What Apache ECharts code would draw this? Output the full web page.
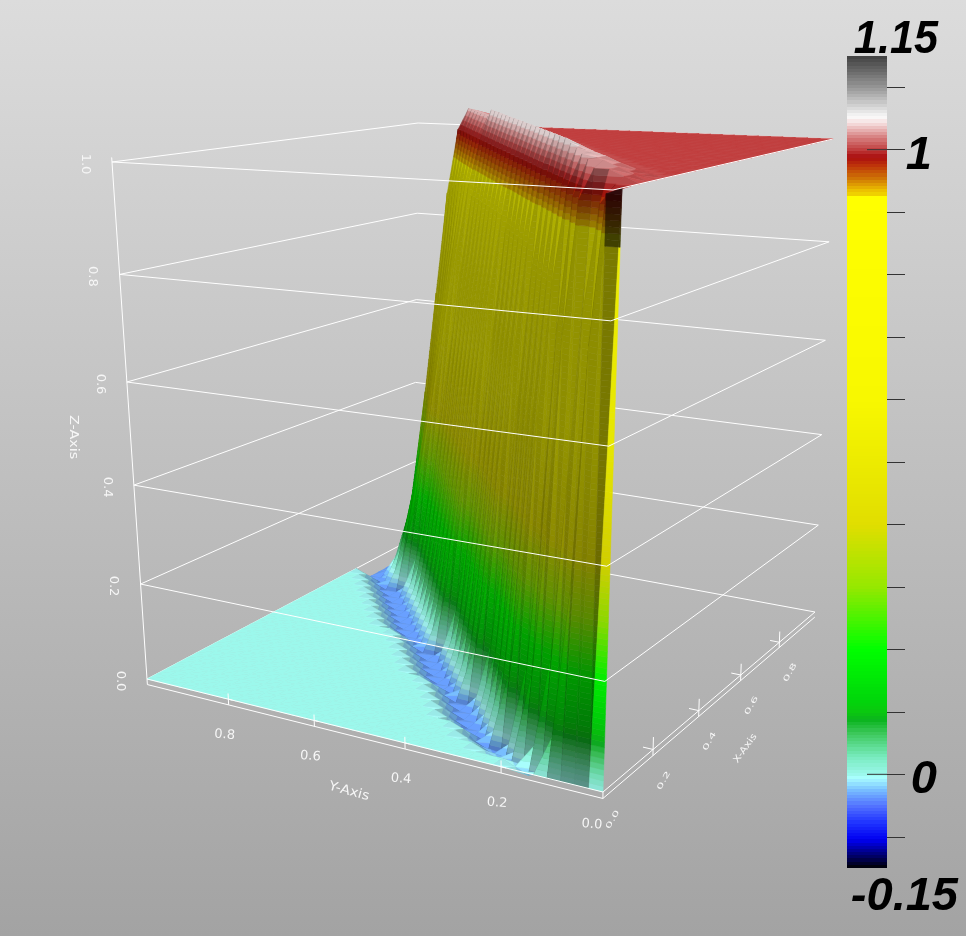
<!DOCTYPE html>
<html>
<head>
<meta charset="utf-8">
<style>html,body{margin:0;padding:0;background:#bbb}#main{width:966px;height:936px}</style>
<script src="https://cdn.jsdelivr.net/npm/echarts@6/dist/echarts.min.js"></script>
</head>
<body>
<div id="main"></div>
<script>
// grid of the surface
const xValues = [0,.031,.063,.094,.125,.156,.188,.219,.25,.281,.313,.344,.375,.406,.438,.469,.5,.531,.563,.594,.625,.656,.688,.719,.75,.781,.813,.844,.875,.906,.938,.969,1];
const yValues = [0,.027,.054,.081,.108,.135,.162,.189,.216,.243,.27,.297,.324,.351,.378,.405,.432,.459,.486,.514,.541,.568,.595,.622,.649,.676,.703,.73,.757,.784,.811,.838,.865,.892,.919,.946,.973,1];
// one row per x value, one column per y value
const zValues = [
[0,0,0,0,0,0,0,0,0,0,0,0,0,0,0,0,0,0,0,0,0,0,0,0,0,0,0,0,0,0,0,0,0,0,0,0,0,0],
[1,.99,.75,.35,.08,-.01,-.02,-.01,0,0,0,0,0,0,0,0,0,0,0,0,0,0,0,0,0,0,0,0,0,0,0,0,0,0,0,0,0,0],
[1,1,.97,.8,.5,.2,.03,-.02,-.03,-.02,-.01,0,0,0,0,0,0,0,0,0,0,0,0,0,0,0,0,0,0,0,0,0,0,0,0,0,0,0],
[1,1.01,1.02,1.02,.97,.75,.42,.15,-.01,-.03,-.03,-.02,-.01,0,0,0,0,0,0,0,0,0,0,0,0,0,0,0,0,0,0,0,0,0,0,0,0,0],
[1,1.01,1.02,1.03,1.03,.97,.75,.42,.15,-.01,-.04,-.04,-.03,-.01,0,0,0,0,0,0,0,0,0,0,0,0,0,0,0,0,0,0,0,0,0,0,0,0],
[1,1.005,1.01,1.02,1.03,1.035,.98,.82,.58,.32,.11,-.01,-.04,-.04,-.03,-.01,0,0,0,0,0,0,0,0,0,0,0,0,0,0,0,0,0,0,0,0,0,0],
[1,1.005,1.01,1.02,1.03,1.035,1.04,.98,.82,.58,.32,.11,-.01,-.04,-.04,-.03,-.01,0,0,0,0,0,0,0,0,0,0,0,0,0,0,0,0,0,0,0,0,0],
[1,1,1.005,1.01,1.02,1.03,1.035,1.045,.98,.82,.58,.32,.11,-.01,-.04,-.04,-.03,-.01,0,0,0,0,0,0,0,0,0,0,0,0,0,0,0,0,0,0,0,0],
[1,1,1,1.005,1.01,1.02,1.03,1.04,1.05,.98,.82,.58,.32,.11,-.01,-.04,-.04,-.03,-.01,0,0,0,0,0,0,0,0,0,0,0,0,0,0,0,0,0,0,0,0],
[1,1,1,1,1.005,1.01,1.02,1.03,1.04,1.05,.98,.82,.58,.32,.11,-.01,-.04,-.04,-.03,-.01,0,0,0,0,0,0,0,0,0,0,0,0,0,0,0,0,0,0,0],
[1,1,1,1,1,1.005,1.01,1.02,1.03,1.04,1.05,.99,.86,.66,.44,.24,.08,-.02,-.04,-.04,-.03,-.01,0,0,0,0,0,0,0,0,0,0,0,0,0,0,0,0],
[1,1,1,1,1,1,1.005,1.01,1.02,1.03,1.04,1.05,.99,.86,.66,.44,.24,.08,-.02,-.04,-.04,-.03,-.01,0,0,0,0,0,0,0,0,0,0,0,0,0,0,0],
[1,1,1,1,1,1,1,1.005,1.01,1.02,1.03,1.04,1.05,.99,.86,.66,.44,.24,.08,-.02,-.04,-.04,-.03,-.01,0,0,0,0,0,0,0,0,0,0,0,0,0,0],
[1,1,1,1,1,1,1,1,1.005,1.01,1.02,1.03,1.04,1.05,.99,.86,.66,.44,.24,.08,-.02,-.04,-.04,-.03,-.01,0,0,0,0,0,0,0,0,0,0,0,0,0],
[1,1,1,1,1,1,1,1,1,1.005,1.01,1.02,1.03,1.04,1.05,.99,.86,.66,.44,.24,.08,-.02,-.04,-.04,-.03,-.01,0,0,0,0,0,0,0,0,0,0,0,0],
[1,1,1,1,1,1,1,1,1,1,1.005,1.01,1.02,1.03,1.04,1.05,.99,.86,.66,.44,.24,.08,-.02,-.04,-.04,-.03,-.01,0,0,0,0,0,0,0,0,0,0,0],
[1,1,1,1,1,1,1,1,1,1,1,1.005,1.01,1.02,1.03,1.04,1.05,.99,.88,.72,.53,.35,.19,.06,-.02,-.04,-.04,-.03,-.01,0,0,0,0,0,0,0,0,0],
[1,1,1,1,1,1,1,1,1,1,1,1,1.005,1.01,1.02,1.03,1.04,1.05,.99,.88,.72,.53,.35,.19,.06,-.02,-.04,-.04,-.03,-.01,0,0,0,0,0,0,0,0],
[1,1,1,1,1,1,1,1,1,1,1,1,1,1.005,1.01,1.02,1.03,1.04,1.05,.99,.88,.72,.53,.35,.19,.06,-.02,-.04,-.04,-.03,-.01,0,0,0,0,0,0,0],
[1,1,1,1,1,1,1,1,1,1,1,1,1,1,1.005,1.01,1.02,1.03,1.04,1.05,.99,.88,.72,.53,.35,.19,.06,-.02,-.04,-.04,-.03,-.01,0,0,0,0,0,0],
[1,1,1,1,1,1,1,1,1,1,1,1,1,1,1,1.005,1.01,1.02,1.03,1.04,1.05,.99,.88,.72,.53,.35,.19,.06,-.02,-.04,-.04,-.03,-.01,0,0,0,0,0],
[1,1,1,1,1,1,1,1,1,1,1,1,1,1,1,1,1.005,1.01,1.02,1.03,1.04,1.05,.99,.88,.72,.53,.35,.19,.06,-.02,-.04,-.04,-.03,-.01,0,0,0,0],
[1,1,1,1,1,1,1,1,1,1,1,1,1,1,1,1,1,1.005,1.01,1.02,1.03,1.04,1.05,.99,.88,.72,.53,.35,.19,.06,-.02,-.04,-.04,-.03,-.01,0,0,0],
[1,1,1,1,1,1,1,1,1,1,1,1,1,1,1,1,1,1,1.005,1.01,1.02,1.03,1.04,1.05,.99,.88,.72,.53,.35,.19,.06,-.02,-.04,-.04,-.03,-.01,0,0],
[1,1,1,1,1,1,1,1,1,1,1,1,1,1,1,1,1,1,1,1.005,1.01,1.02,1.03,1.04,1.05,.99,.88,.72,.53,.35,.19,.06,-.02,-.04,-.04,-.03,-.01,0],
[1,1,1,1,1,1,1,1,1,1,1,1,1,1,1,1,1,1,1,1,1.005,1.01,1.02,1.03,1.04,1.05,.99,.9,.76,.6,.44,.29,.16,.05,-.02,-.04,-.04,-.03],
[1,1,1,1,1,1,1,1,1,1,1,1,1,1,1,1,1,1,1,1,1,1.005,1.01,1.02,1.025,1.03,1.035,.99,.9,.76,.6,.44,.29,.16,.05,-.02,-.04,-.04],
[1,1,1,1,1,1,1,1,1,1,1,1,1,1,1,1,1,1,1,1,1,1,1.005,1.01,1.02,1.025,1.03,1.035,.99,.89,.73,.56,.4,.25,.12,.02,-.03,-.04],
[1,1,1,1,1,1,1,1,1,1,1,1,1,1,1,1,1,1,1,1,1,1,1,1.005,1.01,1.02,1.025,1.03,1.035,.99,.89,.71,.52,.34,.17,.04,-.03,-.04],
[1,1,1,1,1,1,1,1,1,1,1,1,1,1,1,1,1,1,1,1,1,1,1,1,1.005,1.01,1.02,1.025,1.03,1.035,.99,.88,.68,.47,.27,.1,-.02,-.04],
[1,1,1,1,1,1,1,1,1,1,1,1,1,1,1,1,1,1,1,1,1,1,1,1,1,1.005,1.01,1.02,1.025,1.03,1.035,.99,.87,.66,.44,.22,.06,-.03],
[1,1,1,1,1,1,1,1,1,1,1,1,1,1,1,1,1,1,1,1,1,1,1,1,1,1,1.005,1.01,1.02,1.025,1.03,1.035,.99,.86,.64,.4,.18,.02],
[1,1,1,1,1,1,1,1,1,1,1,1,1,1,1,1,1,1,1,1,1,1,1,1,1,1,1,1.005,1.01,1.02,1.025,1.03,1.035,.99,.85,.62,.38,.15]
];
const boxLevels = [0,.2,.4,.6,.8,1];
const xTicks = [.2,.4,.6,.8];
const yTicks = [.8,.6,.4,.2];
const axisDrop = -.012;
// colour table of the legend bar
const cmapValues = [-.15,-.132,-.105,-.078,-.052,-.025,-.006,0,.028,.066,.087,.1,.12,.2,.3,.4,.6,.925,.927,.935,.956,.975,.988,1,1.02,1.042,1.052,1.068,1.1,1.15];
const cmapColors = [[0,0,0],[0,0,100],[0,0,240],[30,50,255],[80,110,255],[120,190,255],[170,255,255],[156,248,236],[120,235,190],[60,200,90],[10,180,30],[10,200,15],[0,215,10],[0,255,0],[150,232,0],[225,222,0],[248,248,0],[255,255,0],[240,215,0],[235,190,0],[205,110,5],[190,50,10],[170,15,15],[192,62,62],[215,130,130],[245,220,220],[250,250,250],[215,215,215],[150,150,150],[64,64,64]];
const barTicks = [-.1,0,.1,.2,.3,.4,.5,.6,.7,.8,.9,1,1.1];
const barKeyTicks = [0,1];
const barLabelValues = [1.15,1,0,-.15];
const barLabelTexts = ['1.15','1','0','-0.15'];

// camera: homography of the floor and of the roof of the box, z runs between them
const floorView = [[603,406.05,-433.71],[792,-34.28,-10.06],[1,.2381,.1516]];
const roofView = [[613,497.7,-481.85],[190,-4.67,-.3],[1,.3333,.171]];
const zPersp = -.1;
function viewPoint(m, x, y) {
  const w = m[2][0] + m[2][1] * x + m[2][2] * y;
  return [(m[0][0] + m[0][1] * x + m[0][2] * y) / w, (m[1][0] + m[1][1] * x + m[1][2] * y) / w];
}
function project(x, y, z) {
  const a = viewPoint(floorView, x, y), b = viewPoint(roofView, x, y);
  const t = z * (1 + zPersp) / (1 + zPersp * z);
  return [a[0] + (b[0] - a[0]) * t, a[1] + (b[1] - a[1]) * t];
}
function colorAt(v) {
  let k = 0;
  while (k < cmapValues.length - 2 && v > cmapValues[k + 1]) k++;
  const f = Math.max(0, Math.min(1, (v - cmapValues[k]) / (cmapValues[k + 1] - cmapValues[k])));
  return cmapColors[k].map((c, n) => c + (cmapColors[k + 1][n] - c) * f);
}
function rgb(c, s) {
  return 'rgb(' + c.map(v => Math.min(255, Math.round(v * s))).join(',') + ')';
}

// triangles, far corner first so the near ones paint over them
const tris = [];
function vert(i, j) { return [xValues[i], yValues[j], zValues[i][j]]; }
for (let i = xValues.length - 2; i >= 0; i--) {
  for (let j = yValues.length - 2; j >= 0; j--) {
    const corner = i === 0 && j === 0; // this cell stands almost upright at the front
    tris.push({p: [vert(i + 1, j), vert(i + 1, j + 1), vert(i, j + 1)], fixed: corner ? .48 : 0, dim: .92});
    tris.push({p: [vert(i, j), vert(i + 1, j), vert(i, j + 1)], fixed: corner ? .93 : 0, dim: 1});
  }
}
const light = [-.35, .1, .93];
function shadeOf(t) {
  const a = t[1].map((v, n) => v - t[0][n]), b = t[2].map((v, n) => v - t[0][n]);
  const n = [a[1] * b[2] - a[2] * b[1], a[2] * b[0] - a[0] * b[2], a[0] * b[1] - a[1] * b[0]];
  const len = Math.hypot(n[0], n[1], n[2]);
  const d = Math.abs(n[0] * light[0] + n[1] * light[1] + n[2] * light[2]) / len;
  return Math.min(1, .15 + 1.15 * d);
}
function clipZ(poly, level, keepAbove) {
  const out = [];
  poly.forEach((p, n) => {
    const q = poly[(n + 1) % poly.length];
    const pin = keepAbove ? p[2] >= level : p[2] <= level;
    const qin = keepAbove ? q[2] >= level : q[2] <= level;
    if (pin) out.push(p);
    if (pin !== qin) {
      const f = (level - p[2]) / (q[2] - p[2]);
      out.push([p[0] + (q[0] - p[0]) * f, p[1] + (q[1] - p[1]) * f, level]);
    }
  });
  return out;
}
const bandStep = .01;
function renderTri(params, api) {
  const item = tris[params.dataIndex], t = item.p;
  const s = item.fixed || shadeOf(t) * item.dim;
  const zs = t.map(p => p[2]), lo = Math.min.apply(null, zs), hi = Math.max.apply(null, zs);
  const children = [];
  const add = (poly, v, shade) => {
    const points = poly.map(p => api.coord(project(p[0], p[1], p[2])));
    const col = rgb(colorAt(v), shade);
    children.push({type: 'polygon', shape: {points: points}, style: {fill: col, stroke: col, lineWidth: .5}});
  };
  if (hi - lo < 1e-6) {
    add(t, lo, 1);
  } else {
    for (let b = Math.floor(lo / bandStep); b * bandStep < hi; b++) {
      const poly = clipZ(clipZ(t, b * bandStep, true), (b + 1) * bandStep, false);
      // the top of the front strip falls into shadow
      if (poly.length > 2) add(poly, (b + .5) * bandStep, item.fixed && b * bandStep > .9 ? .25 : s);
    }
  }
  return {type: 'group', children: children};
}

// box wires, [from, to] in data space
const backWires = [], frontWires = [];
boxLevels.forEach(z => {
  backWires.push([[0, 1, z], [1, 1, z]], [[1, 1, z], [1, 0, z]]);
  frontWires.push([[0, 1, z], [0, 0, z]], [[0, 0, z], [1, 0, z]]);
});
frontWires.push([[0, 1, axisDrop], [0, 1, 1.008]]);
frontWires.push([[0, 1, axisDrop], [0, 0, axisDrop]], [[0, 0, axisDrop], [1, 0, axisDrop]]);
frontWires.push([[0, 0, axisDrop], [0, 0, 0]]);
yTicks.forEach(v => frontWires.push([[0, v, axisDrop], [0, v, .012]], [[0, v, 0], [0, v - .01, 0]]));
xTicks.forEach(v => frontWires.push([[v, 0, axisDrop], [v, 0, .024]], [[v, 0, 0], [v, .02, 0]]));

function wireItem(w, api) {
  const a = api.coord(project(w[0][0], w[0][1], w[0][2])), b = api.coord(project(w[1][0], w[1][1], w[1][2]));
  return {type: 'line', shape: {x1: a[0], y1: a[1], x2: b[0], y2: b[1]}, style: {stroke: '#fff', lineWidth: 1}};
}

// axis texts: anchor in data space, pixel offset, rotation, squash
const axisFont = '13px "DejaVu Sans"';
const axisTexts = [];
yTicks.forEach(v => axisTexts.push({text: v.toFixed(1), at: [0, v, axisDrop], dx: -4, dy: 30, rot: -.08, sx: 1, sy: 1}));
xTicks.forEach(v => axisTexts.push({text: v.toFixed(1), at: [v, 0, axisDrop], dx: 11, dy: 25, rot: 1.05, sx: 1, sy: .55}));
boxLevels.forEach(v => axisTexts.push({text: v.toFixed(1), at: [0, 1, v], dx: -27, dy: 2, rot: -Math.PI / 2, sx: 1, sy: 1}));
axisTexts.push({text: '0.0', at: [0, 0, axisDrop], dx: -11, dy: 26, rot: -.08, sx: 1, sy: 1});
axisTexts.push({text: '0.0', at: [0, 0, axisDrop], dx: 10, dy: 21, rot: 1.05, sx: 1, sy: .55});
axisTexts.push({text: 'Y-Axis', at: [0, .5, 0], dx: -10, dy: 60, rot: -.27, sx: 1.1, sy: 1});
axisTexts.push({text: 'X-Axis', at: [.5, 0, 0], dx: 25, dy: 56, rot: .95, sx: .85, sy: .7});
axisTexts.push({text: 'Z-Axis', at: [0, 1, .5], dx: -57, dy: 3, rot: -Math.PI / 2, sx: 1.1, sy: 1});

const barBands = 256, barMin = -.15, barMax = 1.15;
const barOffsets = [[51, -16], [45, 6], [50, 6], [71, 29]];
const barSquash = [.92, 1, 1, 1];
const barFont = 'italic bold 47px "Liberation Sans"';

const hiddenAxis = {show: false};
const chart = echarts.init(document.getElementById('main'));
chart.setOption({
  animation: false,
  backgroundColor: new echarts.graphic.LinearGradient(0, 0, 0, 1, [{offset: 0, color: '#dcdcdc'}, {offset: 1, color: '#a3a3a3'}]),
  grid: [
    {left: 0, top: 0, width: 966, height: 936},
    {left: 847, top: 56, width: 40, height: 812}
  ],
  xAxis: [
    Object.assign({type: 'value', min: 0, max: 966, gridIndex: 0}, hiddenAxis),
    Object.assign({type: 'value', min: 0, max: 1, gridIndex: 1}, hiddenAxis)
  ],
  yAxis: [
    Object.assign({type: 'value', min: 0, max: 936, inverse: true, gridIndex: 0}, hiddenAxis),
    {
      type: 'value', min: barMin, max: barMax, gridIndex: 1, position: 'right',
      axisLine: {show: false, onZero: false},
      axisTick: {show: true, customValues: barTicks, length: 18, lineStyle: {color: '#333', width: 1}},
      axisLabel: {show: false},
      splitLine: {show: false}
    }
  ],
  series: [
    {
      type: 'custom', coordinateSystem: 'cartesian2d', xAxisIndex: 0, yAxisIndex: 0, silent: true, clip: false,
      data: backWires.map((w, k) => [k, k]),
      renderItem: (params, api) => wireItem(backWires[params.dataIndex], api)
    },
    {
      type: 'custom', coordinateSystem: 'cartesian2d', xAxisIndex: 0, yAxisIndex: 0, silent: true, clip: false, progressive: 0,
      data: tris.map((t, k) => [0, 0]),
      renderItem: renderTri
    },
    {
      type: 'custom', coordinateSystem: 'cartesian2d', xAxisIndex: 0, yAxisIndex: 0, silent: true, clip: false,
      data: frontWires.map((w, k) => [k, k]),
      renderItem: (params, api) => wireItem(frontWires[params.dataIndex], api)
    },
    {
      type: 'custom', coordinateSystem: 'cartesian2d', xAxisIndex: 0, yAxisIndex: 0, silent: true, clip: false,
      data: axisTexts.map((w, k) => [k, k]),
      renderItem: (params, api) => {
        const l = axisTexts[params.dataIndex];
        const p = api.coord(project(l.at[0], l.at[1], l.at[2]));
        return {
          type: 'text', x: p[0] + l.dx, y: p[1] + l.dy, rotation: l.rot, scaleX: l.sx, scaleY: l.sy,
          style: {text: l.text, fill: '#f6f6f6', font: axisFont, align: 'center', verticalAlign: 'middle'}
        };
      }
    },
    {
      // legend bar, one rectangle per colour of the table
      type: 'custom', coordinateSystem: 'cartesian2d', xAxisIndex: 1, yAxisIndex: 1, silent: true, clip: false,
      data: Array.from({length: barBands}, (v, k) => [0, k]),
      renderItem: (params, api) => {
        const k = params.dataIndex, step = (barMax - barMin) / barBands;
        const a = api.coord([0, barMin + k * step]), b = api.coord([1, barMin + (k + 1) * step]);
        const y1 = Math.round(a[1]), y2 = Math.round(b[1]);
        return {
          type: 'rect', shape: {x: a[0], y: y2, width: b[0] - a[0], height: y1 - y2},
          style: {fill: rgb(colorAt(barMin + (k + .5) * step), 1)}
        };
      }
    },
    {
      type: 'custom', coordinateSystem: 'cartesian2d', xAxisIndex: 1, yAxisIndex: 1, silent: true, clip: false,
      data: barKeyTicks.map(v => [.5, v]),
      renderItem: (params, api) => {
        const a = api.coord([.5, barKeyTicks[params.dataIndex]]), b = api.coord([1, barKeyTicks[params.dataIndex]]);
        return {type: 'line', shape: {x1: a[0], y1: a[1], x2: b[0], y2: b[1]}, style: {stroke: '#333', lineWidth: 1}};
      }
    },
    {
      type: 'custom', coordinateSystem: 'cartesian2d', xAxisIndex: 1, yAxisIndex: 1, silent: true, clip: false,
      data: barLabelValues.map(v => [1, v]),
      renderItem: (params, api) => {
        const k = params.dataIndex, p = api.coord([1, barLabelValues[k]]);
        return {
          type: 'text', x: p[0] + barOffsets[k][0], y: p[1] + barOffsets[k][1], scaleX: barSquash[k],
          style: {text: barLabelTexts[k], fill: '#000', font: barFont, align: 'right', verticalAlign: 'middle'}
        };
      }
    }
  ]
});
window.onresize = function () { chart.resize(); };
</script>
</body>
</html>
